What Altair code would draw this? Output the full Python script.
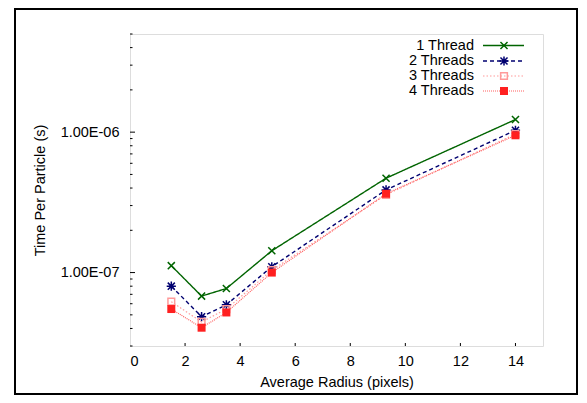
import altair as alt
import pandas as pd

radius = [1.5, 2.6, 3.5, 5.15, 9.3, 14.0]
series_names = ["1 Thread", "2 Threads", "3 Threads", "4 Threads"]
t1 = [1.12e-7, 6.8e-8, 7.7e-8, 1.43e-7, 4.7e-7, 1.23e-6]
t2 = [8.0e-8, 4.85e-8, 5.9e-8, 1.1e-7, 3.88e-7, 1.03e-6]
t3 = [6.2e-8, 4.45e-8, 5.5e-8, 1.04e-7, 3.58e-7, 0.97e-6]
t4 = [5.5e-8, 4.05e-8, 5.2e-8, 1.0e-7, 3.64e-7, 0.95e-6]
values = [t1, t2, t3, t4]

x_ticks = [0, 2, 4, 6, 8, 10, 12, 14]
y_major = [1e-7, 1e-6]
y_minor = [3e-8, 4e-8, 5e-8, 6e-8, 7e-8, 8e-8, 9e-8,
           2e-7, 3e-7, 4e-7, 5e-7, 6e-7, 7e-7, 8e-7, 9e-7,
           2e-6, 3e-6, 4e-6, 5e-6]

W, H = 413, 312
FONT = "Liberation Sans"

colors = ["#006400", "#000070", "#ff9a9a", "#ff2020"]
line_colors = ["#006400", "#000070", "#ff9a9a", "#ff6060"]
dashes = [[1, 0], [4, 3], [1.5, 2], [1, 1]]
xpath = "M-1,-1L1,1M-1,1L1,-1"
starpath = "M-1,-1L1,1M-1,1L1,-1M0,-1.3L0,1.3M-1.3,0L1.3,0"
shapes = [xpath, starpath, "square", "square"]
filled = [False, False, False, True]
sizes = [50, 50, 45, 64]

xs = alt.Scale(domain=[0, 15], nice=False, zero=False)
ys = alt.Scale(type="log", domain=[3e-8, 5e-6], nice=False)

layers = []

# outer frame (decoration)
frame = alt.Chart(pd.DataFrame({"a": [0]})).mark_rect(
    fill=None, stroke="black", strokeWidth=2, clip=False
).encode(x=alt.value(-115), x2=alt.value(447), y=alt.value(-25), y2=alt.value(360))
layers.append(frame)

base_axes = alt.Chart(pd.DataFrame({"r": [0.0], "v": [1e-7]})).mark_point(opacity=0).encode(
    x=alt.X("r:Q", scale=xs, title="Average Radius (pixels)",
            axis=alt.Axis(values=x_ticks, ticks=False, tickSize=0, labelPadding=8, domain=False,
                          grid=False, labelFontSize=14.5, titleFontSize=14.5, titleFontWeight="normal",
                          labelFont=FONT, titleFont=FONT, labelColor="black", titleColor="black",
                          titlePadding=8)),
    y=alt.Y("v:Q", scale=ys, title="Time Per Particle (s)",
            axis=alt.Axis(values=y_major, ticks=False, tickSize=0, labelPadding=11, domain=False,
                          grid=False, labelFontSize=14.5, titleFontSize=14.5, titleFontWeight="normal",
                          labelFont=FONT, titleFont=FONT, labelColor="black", titleColor="black",
                          labelExpr="replace(upper(format(datum.value, '.2e')), 'E-', 'E-0')",
                          titleX=-90, titleY=H / 2, titleBaseline="middle")),
)
layers.append(base_axes)

# inward ticks
xt = alt.Chart(pd.DataFrame({"t": x_ticks[1:]})).mark_rule(color="black", strokeWidth=1).encode(
    x=alt.X("t:Q", scale=xs), y=alt.value(H), y2=alt.value(H - 3))
ymaj = alt.Chart(pd.DataFrame({"t": y_major})).mark_rule(color="black", strokeWidth=1).encode(
    y=alt.Y("t:Q", scale=ys), x=alt.value(0), x2=alt.value(5))
ymin = alt.Chart(pd.DataFrame({"t": y_minor})).mark_rule(color="black", strokeWidth=1).encode(
    y=alt.Y("t:Q", scale=ys), x=alt.value(0), x2=alt.value(2.5))
layers += [xt, ymaj, ymin]

for i, name in enumerate(series_names):
    df = pd.DataFrame({"r": radius, "v": values[i], "s": name})
    ln = alt.Chart(df).mark_line(color=line_colors[i], strokeDash=dashes[i],
                                 strokeWidth=1.4 if i < 2 else 1.2).encode(
        x=alt.X("r:Q", scale=xs), y=alt.Y("v:Q", scale=ys))
    pt = alt.Chart(df).mark_point(shape=shapes[i], filled=filled[i], size=sizes[i],
                                  color=colors[i], strokeWidth=1.5, opacity=1).encode(
        x=alt.X("r:Q", scale=xs), y=alt.Y("v:Q", scale=ys))
    layers += [ln, pt]

# legend (inside top right)
leg_rows = [11.5, 27, 42, 57]
for i, name in enumerate(series_names):
    d = pd.DataFrame({"s": [name]})
    layers.append(alt.Chart(d).mark_text(align="right", baseline="middle", font=FONT,
                                         fontSize=14.5, color="black").encode(
        text="s:N", x=alt.value(344), y=alt.value(leg_rows[i])))
    layers.append(alt.Chart(d).mark_rule(color=line_colors[i], strokeDash=dashes[i],
                                         strokeWidth=1.4 if i < 2 else 1.2).encode(
        x=alt.value(353), x2=alt.value(394), y=alt.value(leg_rows[i])))
    layers.append(alt.Chart(d).mark_point(shape=shapes[i], filled=filled[i], size=sizes[i],
                                          color=colors[i], strokeWidth=1.5, opacity=1).encode(
        x=alt.value(374), y=alt.value(leg_rows[i])))

chart = alt.layer(*layers).properties(
    width=W, height=H,
    padding={"left": 122, "top": 26, "right": 36, "bottom": 49},
    autosize=alt.AutoSizeParams(type="none"),
).configure_view(stroke="black", strokeWidth=1.5).configure(background="white")

chart.save("out.html", embed_options={"renderer": "svg", "actions": False})
